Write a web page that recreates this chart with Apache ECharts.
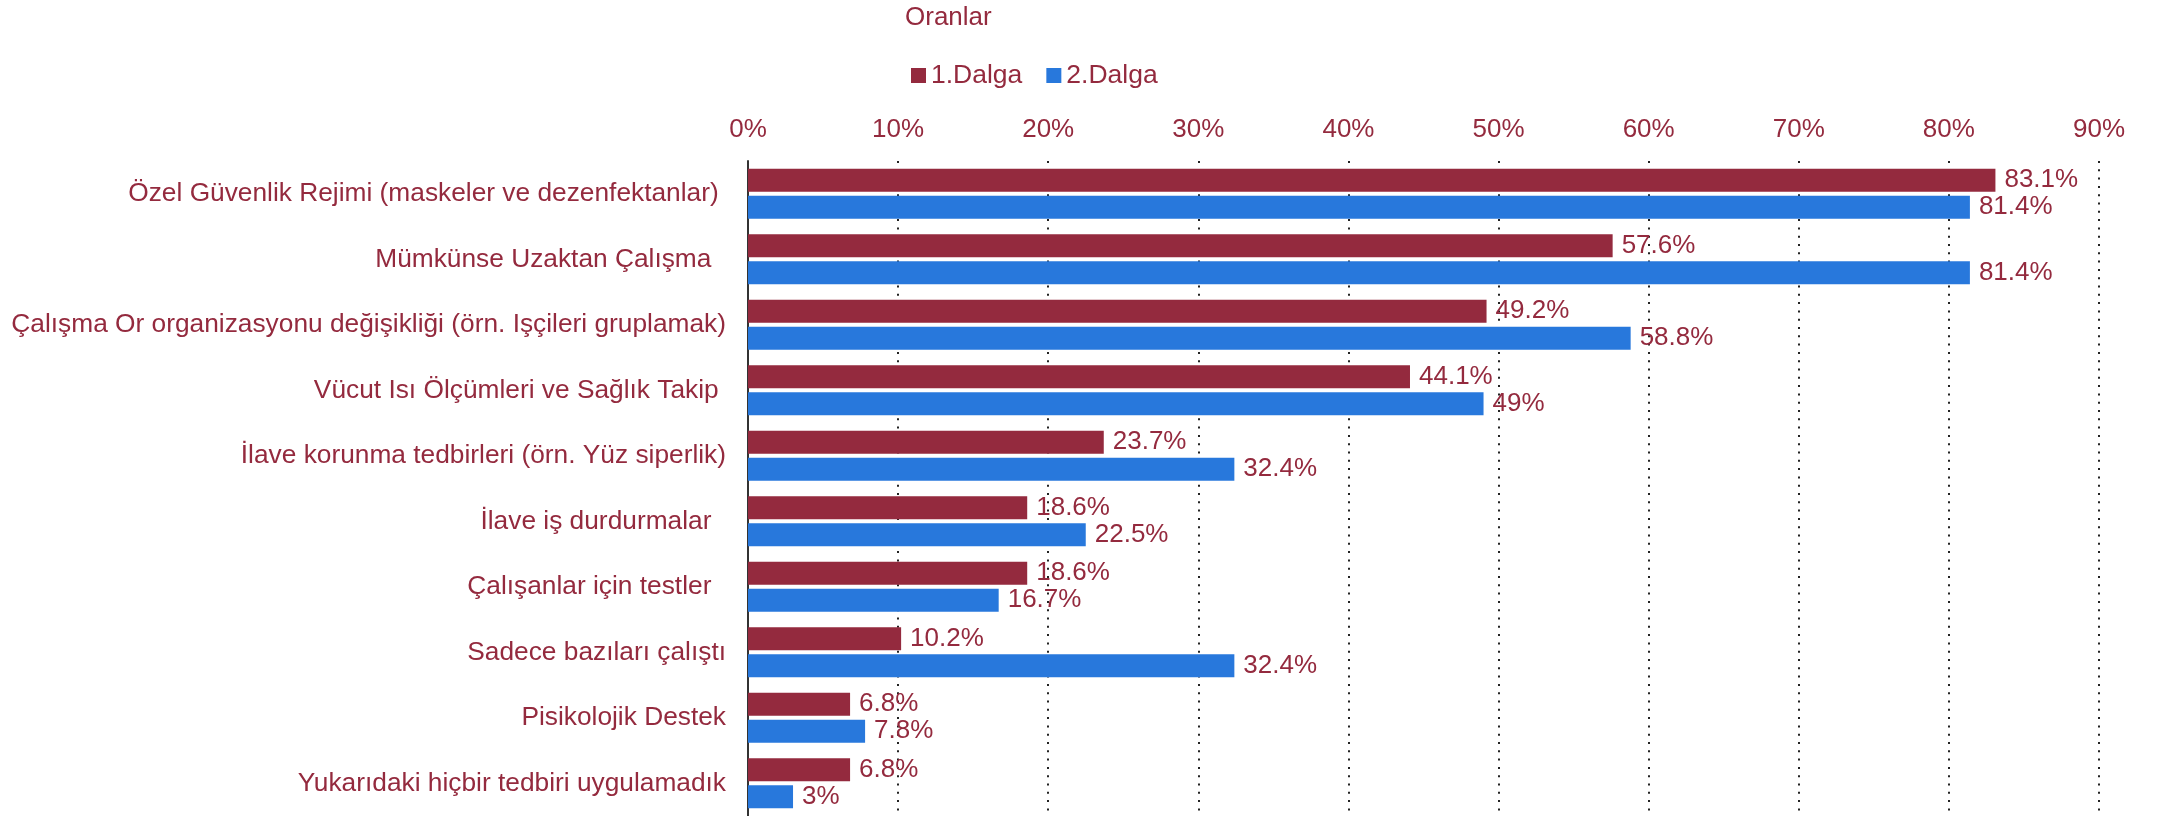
<!DOCTYPE html>
<html>
<head>
<meta charset="utf-8">
<script src="https://cdn.jsdelivr.net/npm/echarts@6/dist/echarts.min.js"></script>
<style>
html,body{margin:0;padding:0;background:#fff;}
#chart{width:2177px;height:816px;}
</style>
</head>
<body>
<div id="chart"></div>
<script>
const categories = [
  'Özel Güvenlik Rejimi (maskeler ve dezenfektanlar) ',
  'Mümkünse Uzaktan Çalışma  ',
  'Çalışma Or organizasyonu değişikliği (örn. Işçileri gruplamak)',
  'Vücut Isı Ölçümleri ve Sağlık Takip ',
  'İlave korunma tedbirleri (örn. Yüz siperlik)',
  'İlave iş durdurmalar  ',
  'Çalışanlar için testler  ',
  'Sadece bazıları çalıştı',
  'Pisikolojik Destek',
  'Yukarıdaki hiçbir tedbiri uygulamadık'
];
const seriesNames = ['1.Dalga', '2.Dalga'];
const dalga1 = [83.1, 57.6, 49.2, 44.1, 23.7, 18.6, 18.6, 10.2, 6.8, 6.8];
const dalga2 = [81.4, 81.4, 58.8, 49, 32.4, 22.5, 16.7, 32.4, 7.8, 3];
const xTicks = [0, 10, 20, 30, 40, 50, 60, 70, 80, 90];

const RED = '#942A3E';
const BLUE = '#2878DC';
const FONT = 'Arial, "Liberation Sans", sans-serif';

const chart = echarts.init(document.getElementById('chart'), null, {renderer: 'canvas'});

function barSeries(name, data, color) {
  return {
    name: name,
    type: 'bar',
    data: data,
    barWidth: 23,
    barGap: '17%',
    itemStyle: {color: color},
    label: {
      show: true,
      position: 'right',
      distance: 9,
      color: RED,
      fontSize: 26,
      fontFamily: FONT,
      formatter: p => p.value + '%'
    }
  };
}

chart.setOption({
  animation: false,
  backgroundColor: '#fff',
  textStyle: {fontFamily: FONT},
  title: {
    text: 'Oranlar',
    left: 900,
    top: 0,
    textStyle: {color: RED, fontSize: 26, fontWeight: 'normal', fontFamily: FONT}
  },
  legend: {
    data: seriesNames,
    left: 906,
    top: 57,
    itemWidth: 15,
    itemHeight: 15,
    itemGap: 24,
    icon: 'rect',
    textStyle: {color: RED, fontSize: 26.5, fontFamily: FONT}
  },
  grid: {
    left: 748,
    right: 78,
    top: 161,
    height: 657,
    containLabel: false
  },
  xAxis: {
    type: 'value',
    position: 'top',
    min: xTicks[0],
    max: xTicks[xTicks.length - 1],
    interval: xTicks[1] - xTicks[0],
    axisLine: {show: false},
    axisTick: {show: false},
    axisLabel: {
      color: RED,
      fontSize: 26,
      fontFamily: FONT,
      margin: 18,
      formatter: '{value}%'
    },
    splitLine: {
      show: true,
      lineStyle: {color: '#222', width: 2, type: [2, 6.3]}
    }
  },
  yAxis: {
    type: 'category',
    data: categories,
    inverse: true,
    axisLine: {show: true, lineStyle: {color: '#333', width: 2}},
    axisTick: {show: false},
    axisLabel: {
      color: RED,
      fontSize: 26.3,
      fontFamily: FONT,
      margin: 22
    },
    splitLine: {show: false}
  },
  series: [
    barSeries(seriesNames[0], dalga1, RED),
    barSeries(seriesNames[1], dalga2, BLUE)
  ]
});
</script>
</body>
</html>
